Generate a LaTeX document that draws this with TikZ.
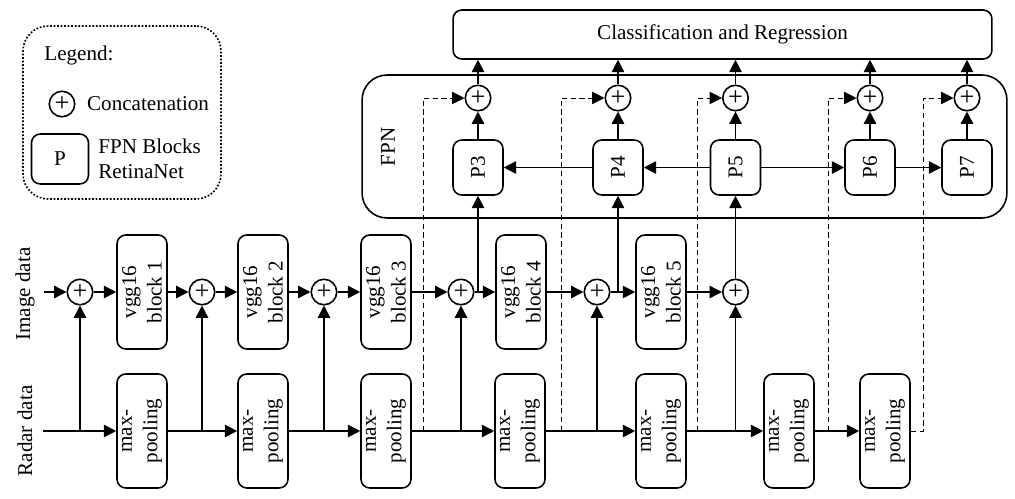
\documentclass[tikz,border=0pt]{standalone}
\usepackage{fontspec}
\setmainfont{Liberation Serif}
\usetikzlibrary{positioning, arrows.meta}

\tikzset{
  blk/.style={draw, rounded corners=5pt, rotate=90, minimum width=2.28cm, minimum height=1cm, inner sep=1pt, align=center},
  pblk/.style={draw, rounded corners=5pt, rotate=90, minimum width=1.1cm, minimum height=1cm, inner sep=1pt},
  cat/.style={draw, circle, minimum size=0.51cm, inner sep=0pt, font=\fontsize{15}{15}\selectfont},
  skip/.style={dash pattern=on 3pt off 2pt, line width=0.5pt}
}

\begin{document}
\begin{tikzpicture}[x=0.02cm, y=-0.02cm, line width=0.9pt, >={Triangle[length=7pt, width=7pt]}, font=\fontsize{12}{14.5}\selectfont]
        \useasboundingbox (0,0) rectangle (1015,498);

        % legend
        \node[draw, dash pattern=on 1pt off 1pt, rounded corners=0.5cm, minimum width=3.96cm, minimum height=3.46cm] (leg) at (122,112.5) {};
        \node (legt) at (79,55) {Legend:};
        \node[cat] (lc) at (62,104) {+};
        \node (lct) [right=0.1cm of lc] {Concatenation};
        \node[draw, rounded corners=5pt, minimum width=1.14cm, minimum height=1cm] (lp) at (60,159) {P};
        \node (lpt) [right=0.05cm of lp, align=left] {FPN Blocks\\RetinaNet};

        % FPN and head
        \node[draw, rounded corners=0.5cm, minimum width=12.9cm, minimum height=2.86cm] (fpn) at (684.5,146.5) {};
        \node[rotate=90] (fpnt) at (388,147) {FPN};
        \node[draw, rounded corners=5pt, minimum width=10.78cm, minimum height=0.98cm] (cls) at (722.5,34.5) {Classification and Regression};

        \node[pblk] (p3) at (478,167.5) {P3};
        \node[pblk] (p4) at (618,167.5) {P4};
        \node[pblk] (p5) at (735.5,167.5) {P5};
        \node[pblk] (p6) at (870,167.5) {P6};
        \node[pblk] (p7) at (967,167.5) {P7};

        \node[cat] (s3) at (478,98) {+};
        \node[cat] (s4) at (618,98) {+};
        \node[cat] (s5) at (735.5,98) {+};
        \node[cat] (s6) at (870,98) {+};
        \node[cat] (s7) at (967,98) {+};

        % inputs
        \node[rotate=90] (imgt) at (25,294) {Image data};
        \node[rotate=90] (radt) at (25,431) {Radar data};
        \coordinate (iin) at (44,292);
        \coordinate (rin) at (43,431);

        % image branch
        \node[cat] (c1) at (80,292) {+};
        \node[blk] (b1) at (142,292) {vgg16\\block 1};
        \node[cat] (c2) at (202,292) {+};
        \node[blk] (b2) at (263,292) {vgg16\\block 2};
        \node[cat] (c3) at (324,292) {+};
        \node[blk] (b3) at (386,292) {vgg16\\block 3};
        \node[cat] (c4) at (461,292) {+};
        \node[blk] (b4) at (521,292) {vgg16\\block 4};
        \node[cat] (c5) at (597,292) {+};
        \node[blk] (b5) at (661,292) {vgg16\\block 5};
        \node[cat] (c6) at (735.5,292) {+};

        % radar branch
        \node[blk] (m1) at (142,431) {max-\\pooling};
        \node[blk] (m2) at (263,431) {max-\\pooling};
        \node[blk] (m3) at (386,431) {max-\\pooling};
        \node[blk] (m4) at (520,431) {max-\\pooling};
        \node[blk] (m5) at (661,431) {max-\\pooling};
        \node[blk] (m6) at (789,431) {max-\\pooling};
        \node[blk] (m7) at (885,431) {max-\\pooling};

        \coordinate (d3) at (423,431);
        \coordinate (d4) at (561,431);
        \coordinate (d5) at (697,431);
        \coordinate (d6) at (828,431);
        \coordinate (d7) at (923,431);

        \path[->]
        (iin) edge (c1)
        (c1) edge (b1)
        (b1) edge (c2)
        (c2) edge (b2)
        (b2) edge (c3)
        (c3) edge (b3)
        (b3) edge (c4)
        (c4) edge (b4)
        (b4) edge (c5)
        (c5) edge (b5)
        (b5) edge (c6);

        \path[->]
        (rin) edge (m1)
        (m1) edge (m2)
        (m2) edge (m3)
        (m3) edge (m4)
        (m4) edge (m5)
        (m5) edge (m6)
        (m6) edge (m7)
        (c1 |- rin) edge (c1)
        (c2 |- rin) edge (c2)
        (c3 |- rin) edge (c3)
        (c4 |- rin) edge (c4)
        (c5 |- rin) edge (c5)
        (c6 |- rin) edge (c6);

        \path[->]
        (p3 |- c4) edge (p3)
        (p4 |- c5) edge (p4)
        (c6) edge (p5)
        (p4) edge (p3)
        (p5) edge (p4)
        (p5) edge (p6)
        (p6) edge (p7)
        (p3) edge (s3)
        (p4) edge (s4)
        (p5) edge (s5)
        (p6) edge (s6)
        (p7) edge (s7)
        (s3) edge (s3 |- cls.south)
        (s4) edge (s4 |- cls.south)
        (s5) edge (s5 |- cls.south)
        (s6) edge (s6 |- cls.south)
        (s7) edge (s7 |- cls.south);

        % radar skips to the FPN
        \draw[skip, ->] (d3) |- (s3);
        \draw[skip, ->] (d4) |- (s4);
        \draw[skip, ->] (d5) |- (s5);
        \draw[skip, ->] (d6) |- (s6);
        \draw[skip, ->] (m7) -- (d7) |- (s7);
      \end{tikzpicture}
\end{document}
